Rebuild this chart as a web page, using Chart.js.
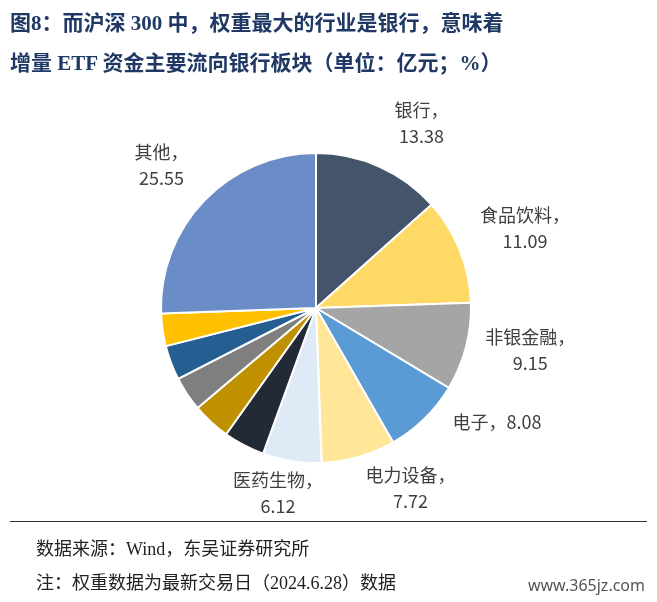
<!DOCTYPE html>
<html>
<head>
<meta charset="utf-8">
<script src="https://cdn.jsdelivr.net/npm/chart.js@4"></script>
<style>
  body { margin: 0; background: #fff; }
  #wrap { position: relative; width: 657px; height: 602px; overflow: hidden; }
  canvas { position: absolute; left: 0; top: 0; }
  .title { position: absolute; left: 10px; font: bold 21px "Liberation Serif", "Noto Sans CJK SC", serif; color: #1F3864; white-space: nowrap; }
  .foot { position: absolute; left: 36px; font: 18px "Liberation Serif", "Noto Sans CJK SC", serif; color: #222; white-space: nowrap; }
  #rule { position: absolute; left: 10px; right: 10px; top: 521px; border-top: 1px solid #333; }
  #mark { position: absolute; right: 8px; top: 572px; font: 16px "Noto Sans", sans-serif; color: #555; background: #fff; padding: 2px 4px; }
</style>
</head>
<body>
<div id="wrap">
  <canvas id="pie" width="657" height="602"></canvas>
  <div class="title" style="top:6px">图8：而沪深 300 中，权重最大的行业是银行，意味着</div>
  <div class="title" style="top:46px">增量 ETF 资金主要流向银行板块（单位：亿元；%）</div>
  <div id="rule"></div>
  <div class="foot" style="top:534px">数据来源：Wind，东吴证券研究所</div>
  <div class="foot" style="top:568px">注：权重数据为最新交易日（2024.6.28）数据</div>
  <div id="mark">www.365jz.com</div>
</div>
<script>
// sector weights, clockwise from 12 o'clock
const sectors = ['银行', '食品饮料', '非银金融', '电子', '电力设备', '医药生物', '', '', '', '', '', '其他'];
const weights = [13.38, 11.09, 9.15, 8.08, 7.72, 6.12, 4.3, 4.0, 3.6, 3.6, 3.4, 25.55];
const colors = ['#44546A', '#FFD966', '#A5A5A5', '#5B9BD5', '#FFE699', '#DEEBF7',
                '#222A35', '#BF9000', '#7F7F7F', '#255E91', '#FFC000', '#6A8CC7'];
// label offsets relative to slice mid-angle point just outside the pie
const labelShift = [[32, -23], [42, -15], [40, -5], [55, -8], [45, 5], [-10, 5], , , , , , [-25, -20]];
const oneLine = [false, false, false, true, false, false, , , , , , false];

const outsideLabels = {
    id: 'outsideLabels',
    afterDraw(chart) {
        const ctx = chart.ctx;
        const arcs = chart.getDatasetMeta(0).data;
        ctx.save();
        ctx.fillStyle = '#404040';
        ctx.font = '18px "Noto Sans CJK SC", sans-serif';
        ctx.textAlign = 'center';
        arcs.forEach((arc, i) => {
            if (!sectors[i]) return;
            const mid = (arc.startAngle + arc.endAngle) / 2;
            const r = arc.outerRadius + 25;
            const x = arc.x + Math.cos(mid) * r + labelShift[i][0];
            const y = arc.y + Math.sin(mid) * r + labelShift[i][1];
            if (oneLine[i]) {
                ctx.fillText(sectors[i] + '，' + weights[i].toFixed(2), x, y);
            } else {
                ctx.fillText(sectors[i] + '，', x, y - 4);
                ctx.fillText(weights[i].toFixed(2), x, y + 22);
            }
        });
        ctx.restore();
    }
};

new Chart(document.getElementById('pie'), {
    type: 'pie',
    data: {
        labels: sectors,
        datasets: [{
            data: weights,
            backgroundColor: colors,
            borderColor: '#fff',
            borderWidth: 2
        }]
    },
    options: {
        responsive: false,
        animation: false,
        layout: { padding: { left: 160, right: 185, top: 152, bottom: 138 } },
        plugins: { legend: { display: false }, tooltip: { enabled: false } }
    },
    plugins: [outsideLabels]
});
</script>
</body>
</html>
